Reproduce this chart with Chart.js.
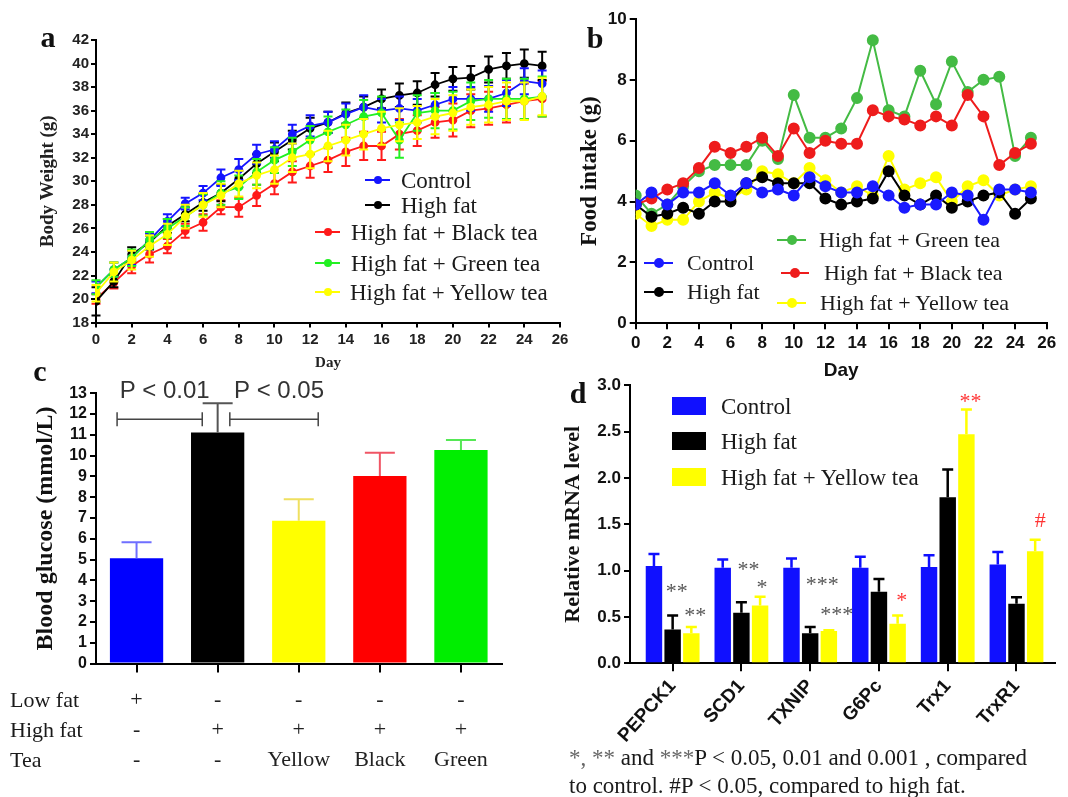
<!DOCTYPE html>
<html>
<head>
<meta charset="utf-8">
<title>Tea and high-fat diet</title>
<script src="https://cdn.jsdelivr.net/npm/chart.js@4.4.1/dist/chart.umd.min.js"></script>
<style>
body { margin: 0; background: #fff; }
#page { position: relative; width: 1068px; height: 797px; overflow: hidden; background: #fff; }
canvas { position: absolute; }
.txt { position: absolute; white-space: nowrap; line-height: 1; transform: translateY(-50%);
       font-family: 'Liberation Serif', 'Times New Roman', serif; color: #1a1a1a; font-size: 22px; }
.big { font-size: 23px; }
.letter { font-weight: bold; font-size: 30px; transform: translate(-50%, -50%); color: #111; }
.ln { position: absolute; height: 2px; }
.dot { position: absolute; border-radius: 50%; transform: translate(-50%, -50%); }
.box { position: absolute; height: 18px; transform: translateY(-50%); }
.grey { color: #666; }
</style>
</head>
<body>
<div id="page">
  <canvas id="weight" width="580" height="372" style="left:0;top:0"></canvas>
  <canvas id="intake" width="508" height="385" style="left:560px;top:0"></canvas>
  <canvas id="glucose" width="540" height="410" style="left:0;top:370px"></canvas>
  <canvas id="mrna" width="528" height="427" style="left:540px;top:370px"></canvas>
</div>
<script>
const SERIF = "'Liberation Serif', 'Times New Roman', serif";
const SANS = "'Liberation Sans', Arial, sans-serif";

// ---- shared ----
const groupNames = ['Control', 'High fat', 'High fat + Black tea', 'High fat + Green tea', 'High fat + Yellow tea'];
const days = [0, 1, 2, 3, 4, 5, 6, 7, 8, 9, 10, 11, 12, 13, 14, 15, 16, 17, 18, 19, 20, 21, 22, 23, 24, 25];

// ---- a: body weight (g) ----
const bwControl = [21.0, 22.5, 23.5, 25.0, 26.6, 28.1, 29.0, 30.3, 31.0, 32.3, 32.7, 34.0, 34.7, 35.0, 35.7, 36.3, 36.0, 36.2, 36.0, 36.5, 37.0, 37.0, 37.0, 37.5, 38.5, 38.3];
const bwControlErr = [0.5, 0.6, 0.6, 0.6, 0.6, 0.5, 0.6, 0.7, 0.9, 0.8, 0.7, 0.8, 0.9, 0.9, 0.9, 1.0, 1.0, 1.0, 1.0, 1.0, 1.0, 1.0, 1.1, 1.1, 1.1, 1.1];
const bwHighFat = [19.8, 21.5, 23.8, 24.8, 26.2, 27.2, 28.2, 29.0, 30.2, 31.5, 32.5, 33.5, 34.5, 35.0, 35.8, 36.3, 37.0, 37.3, 37.5, 38.2, 38.7, 38.8, 39.5, 39.8, 40.0, 39.8];
const bwHighFatErr = [1.2, 0.5, 0.6, 0.6, 0.6, 0.6, 0.7, 0.7, 0.7, 0.8, 0.8, 0.8, 0.9, 0.9, 0.9, 0.9, 0.8, 1.0, 1.0, 1.0, 1.0, 1.0, 1.1, 1.1, 1.2, 1.2];
const bwBlack = [20.0, 21.4, 22.8, 23.8, 24.5, 25.8, 26.5, 27.8, 27.8, 28.8, 29.8, 30.8, 31.3, 31.8, 32.5, 33.0, 33.0, 34.0, 34.3, 35.0, 35.2, 36.0, 36.2, 36.5, 36.8, 37.0];
const bwBlackErr = [0.4, 0.5, 0.6, 0.7, 0.6, 0.6, 0.7, 0.6, 0.8, 0.9, 0.9, 0.9, 1.0, 1.0, 1.2, 1.2, 1.2, 1.3, 1.3, 1.3, 1.4, 1.4, 1.4, 1.5, 1.5, 1.5];
const bwGreen = [21.0, 22.5, 23.5, 25.0, 26.0, 27.0, 28.0, 29.0, 29.5, 30.8, 31.8, 32.5, 33.5, 34.2, 34.8, 35.5, 35.8, 33.5, 35.8, 36.0, 36.0, 36.8, 37.0, 37.0, 37.0, 37.2];
const bwGreenErr = [0.6, 0.6, 0.7, 0.7, 0.8, 0.8, 0.9, 1.0, 1.0, 1.1, 1.1, 1.2, 1.2, 1.3, 1.3, 1.4, 1.4, 1.5, 1.5, 1.5, 1.6, 1.6, 1.6, 1.7, 1.7, 1.7];
const bwYellow = [20.5, 22.3, 23.3, 24.5, 25.5, 27.0, 28.0, 28.8, 29.8, 30.5, 31.0, 32.0, 32.3, 33.0, 33.5, 34.0, 34.5, 34.8, 35.0, 35.5, 35.8, 36.3, 36.5, 36.8, 36.8, 37.2];
const bwYellowErr = [0.7, 0.8, 0.8, 0.9, 0.9, 1.0, 1.0, 1.0, 1.1, 1.1, 1.2, 1.2, 1.2, 1.3, 1.3, 1.3, 1.4, 1.4, 1.4, 1.5, 1.5, 1.5, 1.5, 1.6, 1.6, 1.6];
const weightColors = ['#1414ff', '#000000', '#ff1a1a', '#22f022', '#ffff00'];

// ---- b: food intake (g) ----
const fiControl = [3.9, 4.3, 3.9, 4.3, 4.3, 4.6, 4.2, 4.6, 4.3, 4.4, 4.2, 4.8, 4.5, 4.3, 4.3, 4.5, 4.2, 3.8, 3.9, 3.9, 4.3, 4.2, 3.4, 4.4, 4.4, 4.3];
const fiHighFat = [3.9, 3.5, 3.6, 3.8, 3.6, 4.0, 4.0, 4.6, 4.8, 4.6, 4.6, 4.6, 4.1, 3.9, 4.0, 4.1, 5.0, 4.2, 3.9, 4.2, 3.8, 4.0, 4.2, 4.3, 3.6, 4.1];
const fiBlack = [3.9, 4.1, 4.4, 4.6, 5.1, 5.8, 5.6, 5.8, 6.1, 5.5, 6.4, 5.6, 6.0, 5.9, 5.9, 7.0, 6.8, 6.7, 6.5, 6.8, 6.5, 7.5, 6.8, 5.2, 5.6, 5.9];
const fiGreen = [4.2, 3.6, 3.9, 4.5, 5.0, 5.2, 5.2, 5.2, 6.0, 5.4, 7.5, 6.1, 6.1, 6.4, 7.4, 9.3, 7.0, 6.8, 8.3, 7.2, 8.6, 7.6, 8.0, 8.1, 5.5, 6.1];
const fiYellow = [3.6, 3.2, 3.4, 3.4, 4.0, 4.3, 4.1, 4.4, 5.0, 4.9, 4.6, 5.1, 4.7, 4.3, 4.5, 4.2, 5.5, 4.4, 4.6, 4.8, 4.0, 4.5, 4.7, 4.2, 4.4, 4.5];
const intakeColors = ['#1a1aff', '#000000', '#ee1c1c', '#44bb44', '#ffff00'];

// ---- c: blood glucose (mmol/L) ----
const lowFatRow = ['+', '-', '-', '-', '-'];
const highFatRow = ['-', '+', '+', '+', '+'];
const teaRow = ['-', '-', 'Yellow', 'Black', 'Green'];
const glucose = [5.06, 11.12, 6.87, 9.02, 10.27];
const glucoseErr = [0.77, 1.40, 1.03, 1.12, 0.48];
const glucoseColors = ['#0000ff', '#000000', '#ffff00', '#ff0000', '#00ee00'];
const glucoseErrColors = ['#6f6fff', '#555555', '#efe060', '#f05565', '#55e855'];
const pBrackets = [
  { from: -0.24, to: 0.81, at: 11.75, text: 'P < 0.01', textAt: 12.78 },
  { from: 1.15, to: 2.24, at: 11.75, text: 'P < 0.05', textAt: 12.78 }
];

// ---- d: relative mRNA level ----
const genes = ['PEPCK1', 'SCD1', 'TXNIP', 'G6Pc', 'Trx1', 'TrxR1'];
const mrnaControl = [1.05, 1.03, 1.03, 1.03, 1.04, 1.065];
const mrnaControlErr = [0.13, 0.09, 0.10, 0.12, 0.125, 0.135];
const mrnaHighFat = [0.366, 0.545, 0.323, 0.771, 1.792, 0.642];
const mrnaHighFatErr = [0.15, 0.115, 0.07, 0.14, 0.30, 0.07];
const mrnaYellow = [0.323, 0.624, 0.348, 0.427, 2.473, 1.208];
const mrnaYellowErr = [0.07, 0.093, 0.01, 0.09, 0.265, 0.125];
const mrnaNames = ['Control', 'High fat', 'High fat + Yellow tea'];
const mrnaColors = ['#1010ff', '#000000', '#ffff00'];
const mrnaMarks = [
  { gene: 0, group: 1, at: 0.71, text: '**', color: '#555', dx: 4 },
  { gene: 0, group: 2, at: 0.445, text: '**', color: '#555', dx: 4 },
  { gene: 1, group: 1, at: 0.94, text: '**', color: '#555', dx: 7 },
  { gene: 1, group: 2, at: 0.745, text: '*', color: '#555', dx: 2 },
  { gene: 2, group: 1, at: 0.78, text: '***', color: '#555', dx: 12 },
  { gene: 2, group: 2, at: 0.46, text: '***', color: '#555', dx: 8 },
  { gene: 3, group: 2, at: 0.61, text: '*', color: '#ff3333', dx: 4 },
  { gene: 4, group: 2, at: 2.76, text: '**', color: '#ff3333', dx: 4 },
  { gene: 5, group: 2, at: 1.47, text: '#', color: '#ff3333', dx: 5 }
];

Chart.defaults.font.family = SANS;
Chart.defaults.color = '#111';

function fitY(w) { return s => { s.width = w; s.paddingTop = 0; s.paddingBottom = 0; }; }
function fitX(h) { return s => { s.height = h; s.paddingLeft = 0; s.paddingRight = 0; }; }
function axisLines(tickLen) {
  return {
    border: { display: true, color: '#000', width: 2 },
    grid: { drawOnChartArea: false, drawTicks: true, tickLength: tickLen, color: '#000', lineWidth: 2, offset: false }
  };
}
const common = {
  responsive: false,
  animation: false,
  events: [],
  plugins: { legend: { display: false }, tooltip: { enabled: false } }
};

// error bars drawn with each dataset, from the y scale
const errorBars = {
  id: 'errorBars',
  afterDatasetDraw(chart, args) {
    const ds = chart.data.datasets[args.index];
    if (!ds.errors) return;
    const meta = args.meta;
    const y = chart.scales.y;
    const ctx = chart.ctx;
    ctx.save();
    ctx.lineWidth = ds.errorWidth || 2;
    meta.data.forEach((el, i) => {
      const v = meta.controller.getParsed(i).y;
      const e = ds.errors[i];
      const top = y.getPixelForValue(v + e);
      const bot = ds.errorBoth ? y.getPixelForValue(v - e) : el.y;
      const half = ds.capWidth / 2;
      ctx.strokeStyle = Array.isArray(ds.errorColor) ? ds.errorColor[i] : (ds.errorColor || ds.borderColor);
      ctx.beginPath();
      ctx.moveTo(el.x, top); ctx.lineTo(el.x, bot);
      ctx.moveTo(el.x - half, top); ctx.lineTo(el.x + half, top);
      if (ds.errorBoth) { ctx.moveTo(el.x - half, bot); ctx.lineTo(el.x + half, bot); }
      ctx.stroke();
    });
    ctx.restore();
  }
};

// ---- chart a ----
const weightValues = [bwControl, bwHighFat, bwBlack, bwGreen, bwYellow];
const weightErrors = [bwControlErr, bwHighFatErr, bwBlackErr, bwGreenErr, bwYellowErr];
const weightOrder = [3, 4, 5, 2, 1];
new Chart(document.getElementById('weight'), {
  type: 'line',
  data: {
    datasets: weightValues.map((vals, k) => ({
      label: groupNames[k],
      data: days.map((d, i) => ({ x: d, y: vals[i] })),
      borderColor: weightColors[k],
      backgroundColor: weightColors[k],
      borderWidth: 1.8,
      pointRadius: 3.5,
      tension: 0,
      order: weightOrder[k],
      errors: weightErrors[k],
      errorBoth: true,
      capWidth: 9,
      errorWidth: 2
    }))
  },
  options: {
    ...common,
    layout: { padding: { left: 0, top: 40, right: 20, bottom: 0 } },
    scales: {
      x: {
        type: 'linear', min: 0, max: 26, ...axisLines(5),
        ticks: { stepSize: 2, padding: 3, color: '#222', font: { size: 15, weight: 'bold' } },
        title: { display: true, text: 'Day', color: '#222', font: { family: SERIF, size: 15, weight: 'bold' }, padding: { top: 0, bottom: 0 } },
        afterFit: fitX(49.4)
      },
      y: {
        min: 18, max: 42, ...axisLines(5),
        ticks: { stepSize: 2, padding: 2, autoSkip: false, color: '#222', font: { size: 15, weight: 'bold' } },
        title: { display: true, text: 'Body Weight (g)', color: '#222', font: { family: SERIF, size: 19, weight: 'bold' }, padding: { top: 37, bottom: 0 } },
        afterFit: fitY(96)
      }
    }
  },
  plugins: [errorBars]
});

// ---- chart b ----
const intakeValues = [fiControl, fiHighFat, fiBlack, fiGreen, fiYellow];
new Chart(document.getElementById('intake'), {
  type: 'line',
  data: {
    datasets: intakeValues.map((vals, k) => ({
      label: groupNames[k],
      data: days.map((d, i) => ({ x: d, y: vals[i] })),
      borderColor: intakeColors[k],
      backgroundColor: intakeColors[k],
      borderWidth: 2,
      pointRadius: 5,
      tension: 0
    }))
  },
  options: {
    ...common,
    layout: { padding: { left: 0, top: 19, right: 21.3, bottom: 0 } },
    scales: {
      x: {
        type: 'linear', min: 0, max: 26, ...axisLines(6),
        ticks: { stepSize: 2, padding: 4, color: '#111', font: { size: 17, weight: 'bold' } },
        title: { display: true, text: 'Day', color: '#111', font: { size: 19, weight: 'bold' }, padding: { top: 0, bottom: 2.9 } },
        afterFit: fitX(61.7)
      },
      y: {
        min: 0, max: 10, ...axisLines(6),
        ticks: { stepSize: 2, padding: 3, color: '#111', font: { size: 17, weight: 'bold' } },
        title: { display: true, text: 'Food intake (g)', color: '#111', font: { family: SERIF, size: 23, weight: 'bold' }, padding: { top: 16.7, bottom: 0 } },
        afterFit: fitY(75.7)
      }
    }
  }
});

// ---- chart c ----
const bracketPlugin = {
  id: 'brackets',
  afterDatasetsDraw(chart) {
    const ctx = chart.ctx, x = chart.scales.x, y = chart.scales.y;
    ctx.save();
    ctx.strokeStyle = '#444';
    ctx.lineWidth = 1.5;
    ctx.fillStyle = '#333';
    ctx.font = '24px ' + SANS;
    ctx.textAlign = 'center';
    ctx.textBaseline = 'alphabetic';
    pBrackets.forEach(b => {
      const x1 = x.getPixelForValue(b.from), x2 = x.getPixelForValue(b.to);
      const yy = y.getPixelForValue(b.at);
      ctx.beginPath();
      ctx.moveTo(x1, yy); ctx.lineTo(x2, yy);
      ctx.moveTo(x1, yy - 7); ctx.lineTo(x1, yy + 7);
      ctx.moveTo(x2, yy - 7); ctx.lineTo(x2, yy + 7);
      ctx.stroke();
      ctx.fillText(b.text, (x1 + x2) / 2 + 5, y.getPixelForValue(b.textAt));
    });
    ctx.restore();
  }
};
new Chart(document.getElementById('glucose'), {
  type: 'bar',
  data: {
    labels: lowFatRow.map((v, i) => [v, highFatRow[i], teaRow[i]]),
    datasets: [{
      label: 'Blood glucose',
      data: glucose,
      backgroundColor: glucoseColors,
      borderWidth: 0,
      categoryPercentage: 1,
      barPercentage: 0.657,
      errors: glucoseErr,
      errorColor: glucoseErrColors,
      capWidth: 30,
      errorWidth: 2
    }]
  },
  options: {
    ...common,
    layout: { padding: { left: 0, top: 23.3, right: 38.5, bottom: 0 } },
    scales: {
      x: {
        ...axisLines(9),
        ticks: { padding: 12.5, autoSkip: false, maxRotation: 0, color: '#222', font: { family: SERIF, size: 22, lineHeight: 1.364 } },
        afterFit: fitX(116.5)
      },
      y: {
        min: 0, max: 13, ...axisLines(6),
        ticks: { stepSize: 1, padding: 3, autoSkip: false, color: '#111', font: { size: 16, weight: 'bold' } },
        title: { display: true, text: 'Blood glucose (mmol/L)', color: '#111', font: { family: SERIF, size: 24, weight: 'bold' }, padding: { top: 31.4, bottom: 0 } },
        afterFit: fitY(96)
      }
    }
  },
  plugins: [errorBars, bracketPlugin]
});

// ---- chart d ----
const markPlugin = {
  id: 'marks',
  afterDatasetsDraw(chart) {
    const ctx = chart.ctx, y = chart.scales.y;
    ctx.save();
    ctx.font = '22px ' + SERIF;
    ctx.textAlign = 'center';
    ctx.textBaseline = 'alphabetic';
    mrnaMarks.forEach(m => {
      const bar = chart.getDatasetMeta(m.group).data[m.gene];
      ctx.fillStyle = m.color;
      ctx.fillText(m.text, bar.x + m.dx, y.getPixelForValue(m.at));
    });
    ctx.restore();
  }
};
const mrnaValues = [mrnaControl, mrnaHighFat, mrnaYellow];
const mrnaErrors = [mrnaControlErr, mrnaHighFatErr, mrnaYellowErr];
new Chart(document.getElementById('mrna'), {
  type: 'bar',
  data: {
    datasets: mrnaValues.map((vals, k) => ({
      label: mrnaNames[k],
      data: genes.map((g, i) => ({ x: i, y: vals[i] })),
      backgroundColor: mrnaColors[k],
      borderColor: mrnaColors[k],
      borderWidth: 0,
      categoryPercentage: 0.815,
      barPercentage: 0.88,
      errors: mrnaErrors[k],
      capWidth: 11,
      errorWidth: 2.5
    }))
  },
  options: {
    ...common,
    layout: { padding: { left: 0, top: 15.3, right: 13, bottom: 0 } },
    scales: {
      x: {
        type: 'linear', min: -0.62, max: 5.56, offset: false, ...axisLines(8),
        afterBuildTicks: s => { s.ticks = genes.map((g, i) => ({ value: i })); },
        ticks: { autoSkip: false, minRotation: 48, maxRotation: 48, padding: 4, color: '#111',
                 font: { size: 19, weight: 'bold' }, callback: v => genes[v] },
        afterFit: fitX(133.7)
      },
      y: {
        min: 0, max: 3, ...axisLines(6),
        ticks: { stepSize: 0.5, padding: 3, autoSkip: false, color: '#111', font: { size: 17, weight: 'bold' }, callback: v => v.toFixed(1) },
        title: { display: true, text: 'Relative mRNA level', color: '#111', font: { family: SERIF, size: 22, weight: 'bold' }, padding: { top: 19.8, bottom: 0 } },
        afterFit: fitY(90)
      }
    }
  },
  plugins: [errorBars, markPlugin]
});

// ---- text, legends ----
const page = document.getElementById('page');
function put(cls, css, text) {
  const el = document.createElement('div');
  el.className = cls;
  Object.assign(el.style, css);
  if (text !== undefined) el.textContent = text;
  page.appendChild(el);
  return el;
}
function lineKey(x1, x2, y, color, dot, tx, label, cls) {
  put('ln', { left: x1 + 'px', top: (y - 1) + 'px', width: (x2 - x1) + 'px', background: color });
  put('dot', { left: (x1 + x2) / 2 + 'px', top: y + 'px', width: dot + 'px', height: dot + 'px', background: color });
  put(cls, { left: tx + 'px', top: y + 'px' }, label);
}

put('txt letter', { left: '48px', top: '37px' }, 'a');
put('txt letter', { left: '595px', top: '38px' }, 'b');
put('txt letter', { left: '40px', top: '371px' }, 'c');
put('txt letter', { left: '578px', top: '393px' }, 'd');

// a legend
lineKey(365, 390, 180, weightColors[0], 8, 401, groupNames[0], 'txt big');
lineKey(365, 390, 205, weightColors[1], 8, 401, groupNames[1], 'txt big');
lineKey(315, 340, 232, weightColors[2], 8, 351, groupNames[2], 'txt big');
lineKey(315, 340, 263, weightColors[3], 8, 351, groupNames[3], 'txt big');
lineKey(315, 340, 292, weightColors[4], 8, 350, groupNames[4], 'txt big');

// b legend
lineKey(644, 673, 263, intakeColors[0], 10, 687, groupNames[0], 'txt');
lineKey(644, 673, 292, intakeColors[1], 10, 687, groupNames[1], 'txt');
lineKey(777, 806, 240, intakeColors[3], 10, 819, groupNames[3], 'txt');
lineKey(781, 809, 273, intakeColors[2], 10, 824, groupNames[2], 'txt');
lineKey(777, 806, 303, intakeColors[4], 10, 820, groupNames[4], 'txt');

// c row headers
put('txt', { left: '10px', top: '700px' }, 'Low fat');
put('txt', { left: '10px', top: '730px' }, 'High fat');
put('txt', { left: '10px', top: '760px' }, 'Tea');

// d legend
mrnaNames.forEach((name, k) => {
  const y = [406, 441, 477][k];
  put('box', { left: '672px', top: y + 'px', width: '34px', background: mrnaColors[k] });
  put('txt big', { left: '721px', top: y + 'px' }, name);
});

// d footnote
const foot1 = put('txt big', { left: '569px', top: '757px' });
foot1.innerHTML = '<span class="grey">*, **</span> and <span class="grey">***</span>P &lt; 0.05, 0.01 and 0.001 , compared';
put('txt big', { left: '569px', top: '785px' }, 'to control. #P < 0.05, compared to high fat.');
</script>
</body>
</html>
